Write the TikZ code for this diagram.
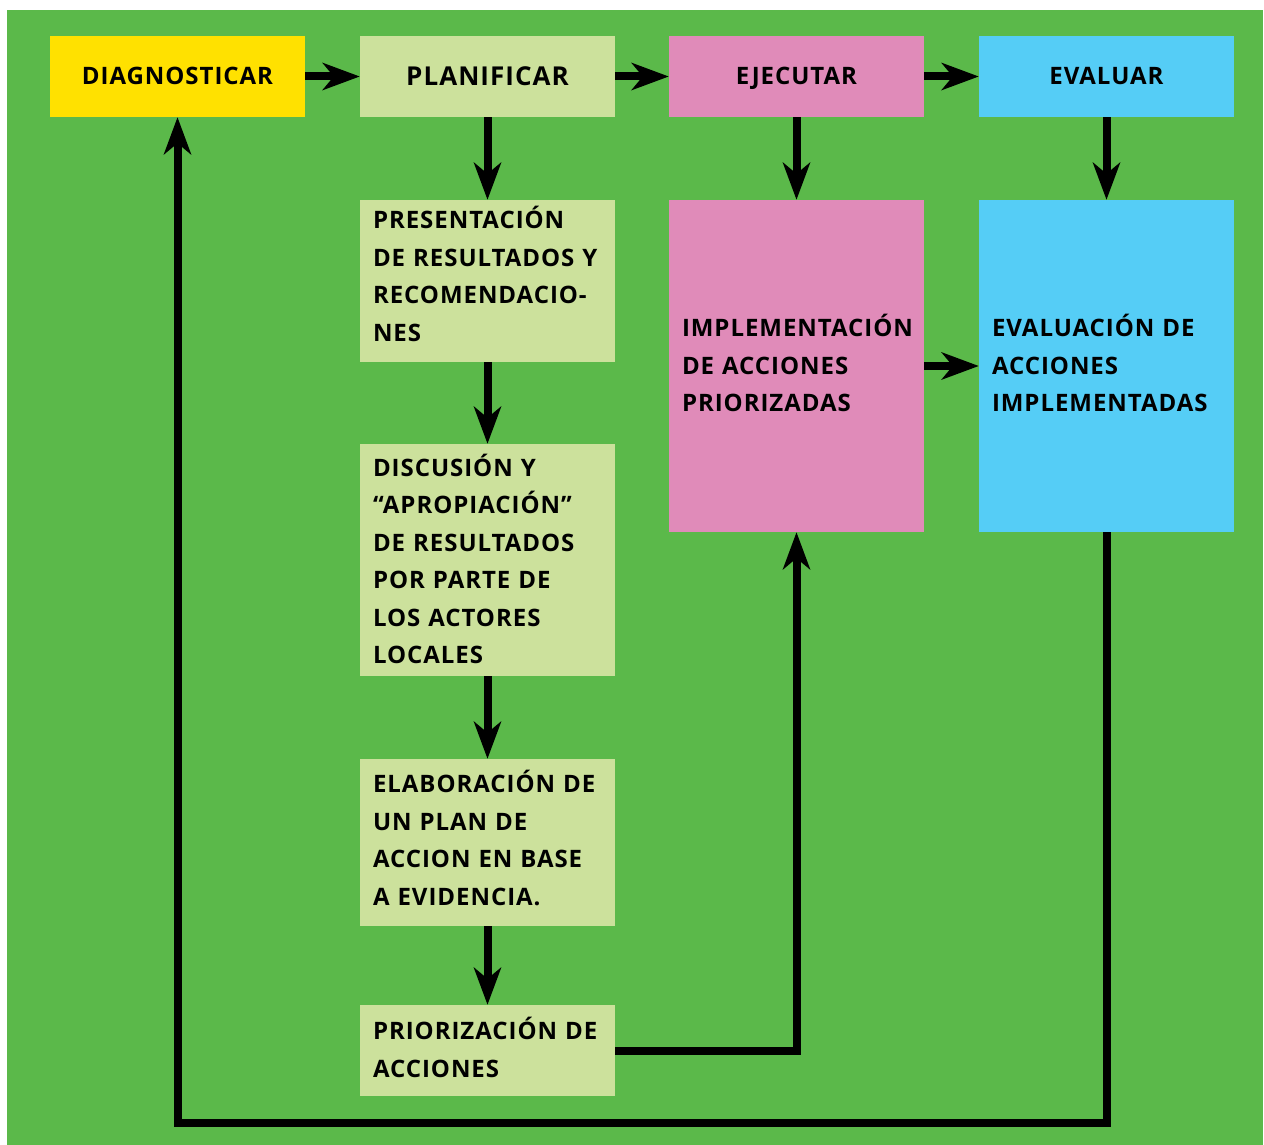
\documentclass[tikz,border=0pt]{standalone}
\usepackage{fontspec}
\setmainfont{Open Sans}[LetterSpace=4]
\usetikzlibrary{arrows.meta}
\definecolor{bggreen}{RGB}{91,185,74}
\definecolor{diagyellow}{RGB}{255,225,0}
\definecolor{planlight}{RGB}{204,225,156}
\definecolor{ejecpink}{RGB}{224,139,185}
\definecolor{evalcyan}{RGB}{85,205,246}
% extra depth under the last line lifts a text block inside its box
\newcommand{\lift}[1]{\rule[-#1]{0pt}{#1}}
\begin{document}
\begin{tikzpicture}[x=1pt,y=-1pt,
  font=\bfseries\fontsize{24}{37.5}\selectfont,
  headbox/.style={minimum width=255pt,minimum height=81pt,inner sep=0pt,
    align=center,text height=17pt,text depth=0pt},
  stagebox/.style={text width=229pt,inner xsep=13pt,inner ysep=0pt,align=left},
  arr/.style={line width=8pt,-{Stealth[length=37pt,width=27pt,inset=11pt]}}]
  % page and green panel
  \useasboundingbox (0,0) rectangle (1264,1145);
  \fill[white] (0,0) rectangle (1264,1145);
  \fill[bggreen] (7,10) rectangle (1263,1145);

  % top row of phases
  \node[headbox,fill=diagyellow] (diag) at (177.5,76.5) {DIAGNOSTICAR};
  \node[headbox,fill=planlight,font=\bfseries\fontsize{26}{30}\selectfont,text height=19pt]
    (plan) at (487.5,76.5) {PLANIFICAR};
  \node[headbox,fill=ejecpink] (ejec) at (796.5,76.5) {EJECUTAR};
  \node[headbox,fill=evalcyan] (eval) at (1106.5,76.5) {EVALUAR};

  % planning steps
  \node[stagebox,fill=planlight,minimum height=162pt] (pres) at (487.5,281)
    {PRESENTACIÓN\\DE RESULTADOS Y\\RECOMENDACIO-\\NES\lift{14pt}};
  \node[stagebox,fill=planlight,minimum height=232pt] (disc) at (487.5,560)
    {DISCUSIÓN Y\\“APROPIACIÓN”\\DE RESULTADOS\\POR PARTE DE\\LOS ACTORES\\LOCALES\lift{2pt}};
  \node[stagebox,fill=planlight,minimum height=167pt] (elab) at (487.5,842.5)
    {ELABORACIÓN DE\\UN PLAN DE\\ACCION EN BASE\\A EVIDENCIA.\lift{9pt}};
  \node[stagebox,fill=planlight,minimum height=91pt] (prior) at (487.5,1050.5)
    {PRIORIZACIÓN DE\\ACCIONES\lift{6pt}};

  % execution and evaluation
  \node[stagebox,fill=ejecpink,minimum height=332pt] (impl) at (796.5,366)
    {IMPLEMENTACIÓN\\DE ACCIONES\\PRIORIZADAS\lift{6pt}};
  \node[stagebox,fill=evalcyan,minimum height=332pt] (evalb) at (1106.5,366)
    {EVALUACIÓN DE\\ACCIONES\\IMPLEMENTADAS\lift{6pt}};

  % connectors
  \draw[arr] (diag) -- (plan);
  \draw[arr] (plan) -- (ejec);
  \draw[arr] (ejec) -- (eval);
  \draw[arr] (plan) -- (pres);
  \draw[arr] (pres) -- (disc);
  \draw[arr] (disc) -- (elab);
  \draw[arr] (elab) -- (prior);
  \draw[arr] (ejec) -- (impl);
  \draw[arr] (eval) -- (evalb);
  \draw[arr] (impl) -- (evalb);
  \draw[arr] (prior.east) -| (impl.south);
  \coordinate (loopbase) at (0,1123);
  \draw[arr] (evalb.south) -- (evalb.south |- loopbase) -| (diag.south);
\end{tikzpicture}
\end{document}
